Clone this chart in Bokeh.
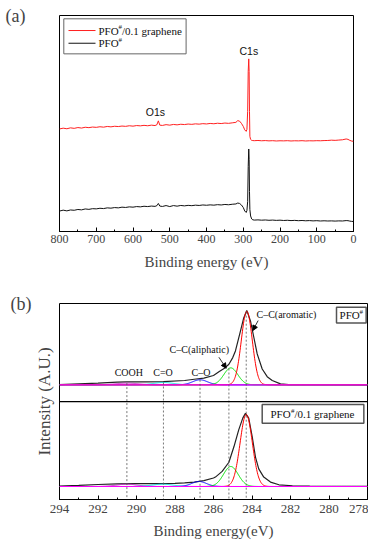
import numpy as np
from bokeh.plotting import figure
from bokeh.layouts import column
from bokeh.models import Range1d, SingleIntervalTicker, FixedTicker, Span, Arrow, NormalHead, LinearAxis
from bokeh.embed import file_html
from bokeh.resources import INLINE
from bokeh.core.properties import value

SERIF = "Liberation Serif"
SANS = "Liberation Sans"

# ---------------- (a) survey spectra ----------------
survey_energy = [800, 790, 780, 770, 760, 750, 740, 730, 720, 710, 700, 690, 680, 670, 660, 650,
                 640, 630, 620, 610, 600, 590, 580, 570, 560, 550, 540, 535, 531, 527, 520, 510,
                 500, 490, 480, 470, 460, 450, 440, 430, 420, 410, 400, 390, 380, 370, 360, 350,
                 340, 330, 320, 315, 310, 305, 300, 296, 292, 290, 288, 286.5, 285, 284, 283, 282,
                 280, 277, 274, 270, 260, 250, 240, 230, 220, 210, 200, 190, 180, 170, 160, 150,
                 140, 130, 120, 110, 100, 90, 80, 70, 60, 50, 40, 30, 20, 15, 10, 5, 0]
survey_pfo = [20.4, 21.3, 20.6, 21.5, 21.2, 22.0, 21.6, 22.5, 22.1, 22.8, 22.6, 23.2, 22.9, 23.6, 23.3, 23.9,
              23.6, 24.3, 24.0, 24.6, 24.3, 24.9, 24.6, 25.2, 24.9, 25.4, 25.1, 25.8, 28.0, 25.4, 25.0, 25.9,
              24.9, 25.9, 25.3, 26.0, 25.6, 26.1, 25.8, 26.3, 26.0, 26.5, 26.2, 26.6, 26.3, 26.8, 26.5, 27.0,
              26.7, 27.2, 27.5, 28.4, 28.0, 26.5, 24.0, 20.5, 19.0, 21.0, 30.0, 65.0, 82.4, 72.0, 40.0, 22.0,
              15.5, 12.5, 11.7, 11.4, 11.6, 11.3, 11.5, 11.2, 11.4, 11.1, 11.3, 11.0, 11.2, 10.9, 11.1, 10.8,
              11.0, 10.7, 10.9, 10.6, 10.8, 10.5, 10.7, 10.5, 10.6, 10.4, 10.6, 10.5, 10.9, 10.8, 10.4, 10.1, 10.0]
survey_pfo_graphene = [102.4, 103.2, 102.6, 103.5, 103.0, 103.8, 103.3, 104.1, 103.7, 104.3, 104.0, 104.6, 104.2, 104.9, 104.5, 105.1,
                       104.8, 105.3, 105.0, 105.6, 105.2, 105.8, 105.5, 106.0, 105.6, 106.2, 105.8, 106.6, 110.5, 106.2, 105.9, 106.7,
                       106.2, 106.9, 106.5, 107.1, 106.8, 107.3, 107.0, 107.5, 107.2, 107.7, 107.4, 107.9, 107.6, 108.1, 107.8, 108.3,
                       108.0, 108.5, 109.0, 110.7, 110.2, 108.0, 105.0, 101.5, 100.0, 102.0, 120.0, 160.0, 172.4, 160.0, 120.0, 95.0,
                       92.0, 91.0, 90.8, 90.7, 90.9, 90.6, 90.8, 90.5, 90.7, 90.4, 90.6, 90.5, 90.7, 90.4, 90.6, 90.5,
                       90.7, 90.4, 90.6, 90.5, 90.7, 90.6, 90.8, 90.9, 91.2, 91.0, 91.3, 91.6, 92.4, 92.0, 91.0, 90.3, 90.0]
survey_peaks = ["O1s", "C1s"]
survey_peak_energy = [538.8, 284.9]
survey_peak_label_y = [119.7, 180.0]

# ---------------- (b) C1s high resolution ----------------
env_energy_top = [294, 293, 292, 291, 290.5, 289.5, 288.6, 287.5, 287, 286.5, 286, 285.7, 285.45, 285.2,
                  285.0, 284.86, 284.6, 284.43, 284.27, 284.08, 283.9, 283.73, 283.47, 283.21, 282.95,
                  282.52, 282.09, 281, 278]
env_top = [0.3, 1.2, 2.2, 3.5, 4.0, 4.0, 4.4, 5.8, 7.5, 9.0, 12.6, 18.0, 22.0, 28.0,
           37.0, 46.0, 73.0, 91.0, 101.0, 87.0, 64.0, 42.0, 21.5, 11.0, 5.8,
           1.3, 0.3, 0.1, 0.0]
env_energy_bot = [294, 293, 292, 291, 290, 289, 288, 287.5, 287, 286.5, 286, 285.9, 285.55, 285.2,
                  284.94, 284.69, 284.48, 284.34, 284.17, 283.99, 283.82, 283.65, 283.39, 283.04,
                  282.6, 281.9, 281, 280, 278]
env_bot = [0.5, 1.5, 2.7, 3.5, 4.0, 4.0, 4.2, 5.0, 6.0, 8.0, 11.5, 12.8, 20.6, 33.0,
           54.0, 77.0, 93.0, 99.5, 93.0, 68.0, 40.0, 24.0, 12.8, 6.0,
           2.3, 1.0, 0.5, 0.3, 0.2]

component_names = ["COOH", "C=O", "C–O", "C–C(aliphatic)", "C–C(aromatic)"]
component_colors = ["#c020c0", "#00e0e0", "#0000ff", "#00e000", "#ff0000"]
centers_top = [290.5, 288.6, 286.7, 285.1, 284.27]
heights_top = [2.3, 3.1, 6.8, 23.0, 100.0]
fwhm_top = [1.3, 1.2, 0.9, 0.85, 0.67]
centers_bot = [290.5, 288.65, 286.75, 285.1, 284.3]
heights_bot = [3.1, 3.1, 6.8, 27.2, 98.0]
fwhm_bot = [1.3, 1.3, 0.9, 0.9, 0.75]
marker_energies = [290.5, 288.6, 286.7, 285.2, 284.3]


def blank_axis(ax):
    ax.ticker = FixedTicker(ticks=[])
    ax.major_tick_in = 0
    ax.major_tick_out = 0
    ax.minor_tick_in = 0
    ax.minor_tick_out = 0
    ax.major_label_standoff = 0
    ax.axis_line_color = None
    ax.axis_label_text_font = SERIF
    ax.axis_label_text_font_style = "normal"


def panel_tag(ax, text, standoff):
    blank_axis(ax)
    ax.axis_label = text
    ax.axis_label_orientation = "horizontal"
    ax.axis_label_text_font_size = "18px"
    ax.axis_label_standoff = standoff
    try:
        ax.axis_label_align = "end"
    except Exception:
        pass


# ================= figure (a) =================
pa = figure(frame_width=294, frame_height=216, x_range=Range1d(800, 0), y_range=Range1d(0, 215.7),
            output_backend="svg", toolbar_location=None,
            min_border_left=59, min_border_right=15, min_border_top=15, min_border_bottom=49)
pa.xgrid.visible = False
pa.ygrid.visible = False
pa.yaxis.visible = False
pa.outline_line_color = "black"
pa.outline_line_width = 1
xa = pa.xaxis[0]
xa.ticker = SingleIntervalTicker(interval=100, num_minor_ticks=2)
xa.major_tick_in = 4
xa.major_tick_out = 0
xa.minor_tick_in = 2
xa.minor_tick_out = 0
xa.axis_line_color = "black"
xa.major_label_text_font = SERIF
xa.major_label_text_font_size = "12px"
xa.major_label_standoff = 3
xa.axis_label = "Binding energy (eV)"
xa.axis_label_text_font = SERIF
xa.axis_label_text_font_style = "normal"
xa.axis_label_text_font_size = "15px"
xa.axis_label_standoff = 8

tag_a = LinearAxis()
panel_tag(tag_a, "(a)", 34)
pa.add_layout(tag_a, "left")

pa.line(survey_energy, survey_pfo_graphene, line_color="#ff2020", line_width=1)
pa.line(survey_energy, survey_pfo, line_color="#111111", line_width=1)
pa.text(x=survey_peak_energy, y=survey_peak_label_y, text=survey_peaks,
        text_font=value(SANS), text_font_size=value("10.5px"),
        text_align="center", text_baseline="middle", text_color="#111111")

# legend of (a)
pa.quad(left=[788.3], right=[455.5], top=[212.4], bottom=[177.4],
        fill_color="white", line_color="#666666", line_width=1)
pa.segment(x0=[775.5, 775.5], y0=[200.7, 188.0], x1=[702.0, 702.0], y1=[200.7, 188.0],
           line_color=["#ff2020", "#111111"], line_width=1)
pa.text(x=[693.9, 693.9], y=[200.7, 188.0], text=["PFO", "PFO"],
        text_font=value(SERIF), text_font_size=value("11px"),
        text_align="left", text_baseline="middle", text_color="#111111")
pa.text(x=[639.5, 639.5], y=[204.0, 191.3], text=["#", "#"],
        text_font=value(SERIF), text_font_size=value("7px"),
        text_align="left", text_baseline="middle", text_color="#111111")
pa.text(x=[629.9], y=[200.7], text=["/0.1 graphene"],
        text_font=value(SERIF), text_font_size=value("11px"),
        text_align="left", text_baseline="middle", text_color="#111111")

# ================= figure (b) =================
TOP_BASE = 138.4
BOT_BASE = 0.0
Y_LO, Y_HI = -17.7, 249.0
DIVIDER = 115.6

pb = figure(frame_width=308, frame_height=196, x_range=Range1d(294, 278), y_range=Range1d(Y_LO, Y_HI),
            output_backend="svg", toolbar_location=None,
            min_border_left=54, min_border_right=6, min_border_top=23, min_border_bottom=45)
pb.xgrid.visible = False
pb.ygrid.visible = False
pb.outline_line_color = "black"
pb.outline_line_width = 1
xb = pb.xaxis[0]
xb.ticker = SingleIntervalTicker(interval=2, num_minor_ticks=2)
xb.major_tick_in = 4
xb.major_tick_out = 0
xb.minor_tick_in = 2
xb.minor_tick_out = 0
xb.axis_line_color = "black"
xb.major_label_text_font = SERIF
xb.major_label_text_font_size = "13px"
xb.major_label_standoff = 5
xb.axis_label = "Binding energy(eV)"
xb.axis_label_text_font = SERIF
xb.axis_label_text_font_style = "normal"
xb.axis_label_text_font_size = "15px"
xb.axis_label_standoff = 7

yb = pb.yaxis[0]
blank_axis(yb)
yb.axis_label = "Intensity (A.U.)"
yb.axis_label_text_font_size = "17px"
yb.axis_label_standoff = 6

tag_b = LinearAxis()
panel_tag(tag_b, "(b)", 0)
pb.add_layout(tag_b, "left")

pb.add_layout(Span(location=DIVIDER, dimension="width", line_color="black", line_width=1.3))

E = np.linspace(278, 294, 801)


def gauss(c, h, w):
    s = w / 2.3548
    return h * np.exp(-0.5 * ((E - c) / s) ** 2)


for base, ee, env, cs, hs, ws in [(TOP_BASE, env_energy_top, env_top, centers_top, heights_top, fwhm_top),
                                  (BOT_BASE, env_energy_bot, env_bot, centers_bot, heights_bot, fwhm_bot)]:
    pb.line(ee, [base + v for v in env], line_color="#222222", line_width=1.2)
    for c, h, w, col in zip(cs, hs, ws, component_colors):
        pb.line(E, base + gauss(c, h, w), line_color=col, line_width=1)
    pb.line([278, 294], [base, base], line_color="#ff00ff", line_width=1.2)

# dashed markers from top-panel component peaks down to the axis
marker_top = []
for m in marker_energies:
    tot = 0.0
    for c, h, w in zip(centers_top, heights_top, fwhm_top):
        s = w / 2.3548
        tot = max(tot, h * np.exp(-0.5 * ((m - c) / s) ** 2))
    marker_top.append(TOP_BASE + tot)
pb.segment(x0=marker_energies, y0=marker_top, x1=marker_energies, y1=[Y_LO] * len(marker_energies),
           line_color="#555555", line_width=0.8, line_dash="2 2")

# peak labels
pb.text(x=[290.4, 288.62, 286.65], y=[155.0, 155.0, 155.0], text=component_names[:3],
        text_font=value(SERIF), text_font_size=value("10px"),
        text_align="center", text_baseline="middle", text_color="#111111")
pb.text(x=[286.74, 282.21], y=[186.4, 234.0], text=component_names[3:],
        text_font=value(SERIF), text_font_size=value("10px"),
        text_align="center", text_baseline="middle", text_color="#111111")
pb.add_layout(Arrow(end=NormalHead(size=5, fill_color="black", line_color="black"),
                    x_start=285.72, y_start=175.9, x_end=285.34, y_end=160.9,
                    line_color="black", line_width=0.8))
pb.add_layout(Arrow(end=NormalHead(size=5, fill_color="black", line_color="black"),
                    x_start=283.68, y_start=225.8, x_end=283.96, y_end=212.2,
                    line_color="black", line_width=0.8))

# sample boxes
pb.quad(left=[279.61, 283.47], right=[278.07, 278.19], top=[244.0, 111.5], bottom=[222.4, 86.1],
        fill_color="white", line_color="#555555", line_width=1.5)
pb.text(x=[279.45, 283.04], y=[233.0, 98.9], text=["PFO", "PFO"],
        text_font=value(SERIF), text_font_size=value("11px"),
        text_align="left", text_baseline="middle", text_color="#111111")
pb.text(x=[278.41, 281.97], y=[237.5, 103.4], text=["#", "#"],
        text_font=value(SERIF), text_font_size=value("7px"),
        text_align="left", text_baseline="middle", text_color="#111111")
pb.text(x=[281.79], y=[98.9], text=["/0.1 graphene"],
        text_font=value(SERIF), text_font_size=value("11px"),
        text_align="left", text_baseline="middle", text_color="#111111")

layout = column(pa, pb)
open("out.html", "w").write(file_html(layout, INLINE))
